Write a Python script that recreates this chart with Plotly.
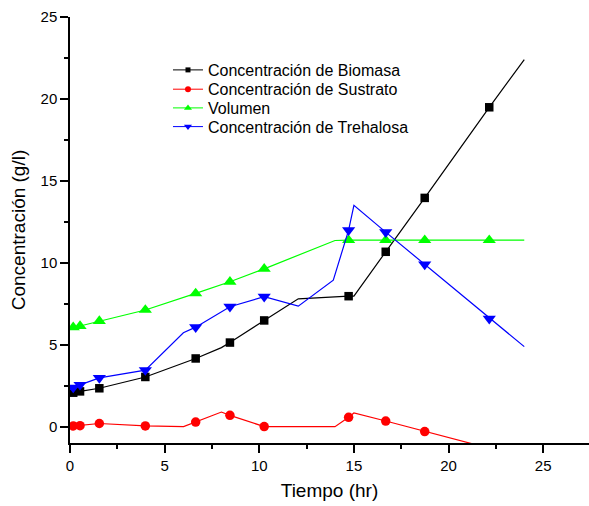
import plotly.graph_objects as go

# Sampling times (hr) of the measured points
t_exp = [0.17, 0.53, 1.55, 3.98, 6.64, 8.45, 10.26, 14.72, 16.68, 18.74, 22.15]

# Measured values (g/l, volume in its own units)
biomasa_exp = [2.07, 2.15, 2.34, 3.03, 4.16, 5.13, 6.48, 7.96, 10.67, 13.96, 19.49]
sustrato_t_exp = [0.17, 0.53, 1.55, 3.98, 6.64, 8.45, 10.26, 14.72, 16.68, 18.74]
sustrato_exp = [0.04, 0.06, 0.19, 0.04, 0.28, 0.69, 0.0, 0.57, 0.34, -0.30]
volumen_exp = [6.06, 6.14, 6.44, 7.12, 8.13, 8.84, 9.63, 11.38, 11.38, 11.38, 11.38]
trehalosa_exp = [2.38, 2.55, 2.97, 3.45, 6.07, 7.32, 7.93, 11.99, 11.87, 9.9, 6.59]

# Profiles drawn as continuous lines
biomasa_t = [0, 0.17, 0.53, 1.55, 3.98, 6.64, 8.0, 8.45, 10.26, 12.06, 14.72, 15.0, 16.68, 18.74, 22.15, 24.0]
biomasa_y = [1.97, 2.07, 2.15, 2.34, 3.03, 4.16, 4.82, 5.13, 6.48, 7.8, 7.96, 7.96, 10.67, 13.96, 19.49, 22.4]

sustrato_t = [0, 0.17, 0.53, 1.55, 3.98, 6.0, 8.0, 8.45, 10.26, 14.0, 14.72, 15.0, 16.68, 18.74, 24.0]
sustrato_y = [0.02, 0.04, 0.06, 0.19, 0.04, 0.0, 0.89, 0.69, 0.0, 0.0, 0.57, 0.83, 0.34, -0.30, -1.88]

volumen_t = [0, 0.17, 0.53, 1.55, 3.98, 6.64, 8.45, 10.26, 14.0, 14.72, 16.68, 18.74, 22.15, 24.0]
volumen_y = [5.99, 6.06, 6.14, 6.44, 7.12, 8.13, 8.84, 9.63, 11.36, 11.38, 11.38, 11.38, 11.38, 11.38]

trehalosa_t = [0, 0.17, 0.53, 1.55, 3.98, 5.99, 6.64, 8.45, 10.26, 12.06, 13.91, 14.72, 15.0, 16.68, 18.74, 22.15, 24.0]
trehalosa_y = [2.32, 2.38, 2.55, 2.97, 3.45, 5.73, 6.07, 7.32, 7.93, 7.35, 8.94, 11.99, 13.51, 11.87, 9.9, 6.59, 4.88]

names = ["Concentración de Biomasa", "Concentración de Sustrato", "Volumen", "Concentración de Trehalosa"]

FONT = "Liberation Sans, Arial, sans-serif"

series = [
    (names[0], "#000000", "square", 8.5, 5, biomasa_t, biomasa_y, t_exp, biomasa_exp),
    (names[1], "#FF0000", "circle", 9.5, 6, sustrato_t, sustrato_y, sustrato_t_exp, sustrato_exp),
    (names[2], "#00FF00", "triangle-up", 11.5, 7, volumen_t, volumen_y, t_exp, volumen_exp),
    (names[3], "#0000FF", "triangle-down", 11.5, 7, trehalosa_t, trehalosa_y, t_exp, trehalosa_exp),
]

fig = go.Figure()

for name, color, symbol, msize, lsize, tl, yl, te, ye in series:
    fig.add_trace(go.Scatter(
        x=tl, y=yl, mode="lines", line=dict(color=color, width=1.2),
        showlegend=False, hoverinfo="skip",
    ))
    fig.add_trace(go.Scatter(
        x=te, y=ye, mode="markers", name=name,
        marker=dict(symbol=symbol, size=msize, color=color, line=dict(width=0)),
        showlegend=False,
    ))

# One legend box per entry so the rows sit close together
legend_ids = ["legend", "legend2", "legend3", "legend4"]
row_y = [0.8756, 0.8303, 0.7864, 0.7425]

for (name, color, symbol, msize, lsize, tl, yl, te, ye), lid in zip(series, legend_ids):
    fig.add_trace(go.Scatter(
        x=[None], y=[None], mode="lines+markers", name=name,
        line=dict(color=color, width=1),
        marker=dict(symbol=symbol, size=lsize, color=color, line=dict(width=0)),
        showlegend=True, legend=lid,
    ))

axis_common = dict(
    showline=True, linecolor="black", linewidth=1.5,
    ticks="outside", ticklen=8, tickwidth=1.5, tickcolor="black",
    showgrid=False, zeroline=False, mirror=False,
    tickfont=dict(family=FONT, size=15, color="black"),
    automargin=False,
)

legend_style = dict(
    x=0.1888, xanchor="left", yanchor="middle",
    bgcolor="rgba(0,0,0,0)", borderwidth=0,
    font=dict(family=FONT, size=16, color="black"),
    itemwidth=30,
)

fig.update_layout(
    width=589, height=506,
    margin=dict(l=70, r=0, t=17, b=63),
    paper_bgcolor="white", plot_bgcolor="white",
    font=dict(family=FONT, color="black"),
    xaxis=dict(
        range=[0, 27.42], tick0=0, dtick=5,
        minor=dict(dtick=2.5, ticks="outside", ticklen=4, tickwidth=1.5, tickcolor="black", showgrid=False),
        title=dict(text="Tiempo (hr)", font=dict(family=FONT, size=19), standoff=11),
        **axis_common,
    ),
    yaxis=dict(
        range=[-1, 25], tick0=0, dtick=5,
        minor=dict(dtick=2.5, ticks="outside", ticklen=4, tickwidth=1.5, tickcolor="black", showgrid=False),
        title=dict(text="Concentración (g/l)", font=dict(family=FONT, size=19), standoff=10),
        **axis_common,
    ),
    showlegend=True,
)

fig.update_layout({lid: dict(y=yv, **legend_style) for lid, yv in zip(legend_ids, row_y)})

fig.write_html("out.html")
